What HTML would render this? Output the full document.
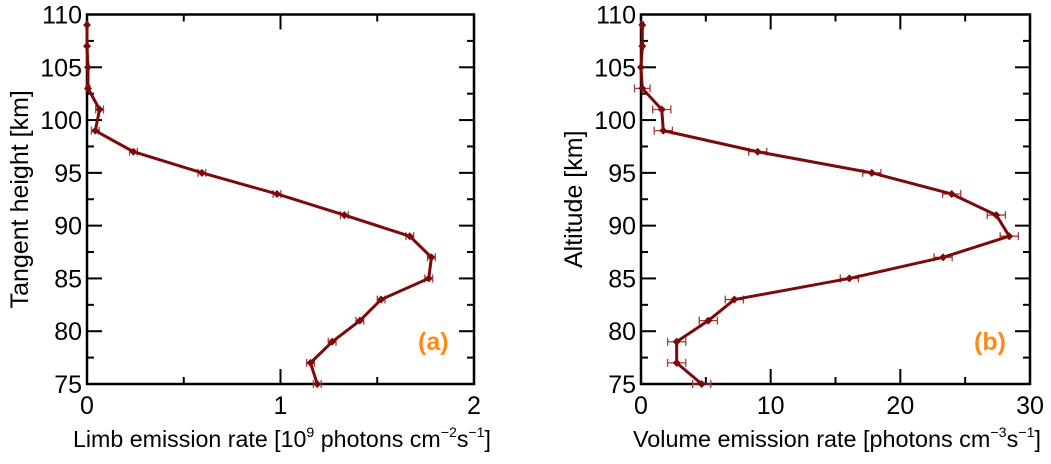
<!DOCTYPE html>
<html><head><meta charset="utf-8"><style>
body{margin:0;background:#fff;}
svg text{font-family:"Liberation Sans",sans-serif;fill:#000;}
</style></head><body>
<svg id="chart" width="1051" height="459" viewBox="0 0 1051 459" xmlns="http://www.w3.org/2000/svg"></svg>
<script>
const altitudes=[109,107,105,103,101,99,97,95,93,91,89,87,85,83,81,79,77,75];
const limbValues=[0.0,0.0,0.005,0.005,0.065,0.043,0.24,0.594,0.982,1.33,1.668,1.78,1.766,1.52,1.41,1.267,1.155,1.19];
const limbErrors=[0.005,0.005,0.005,0.01,0.02,0.02,0.02,0.02,0.02,0.02,0.02,0.02,0.02,0.02,0.02,0.02,0.02,0.02];
const verValues=[0.1,0.1,0.0,0.1,1.6,1.72,9.0,17.8,23.96,27.4,28.4,23.3,16.07,7.2,5.19,2.75,2.75,4.68];
const verErrors=[0.1,0.1,0.05,0.6,0.7,0.7,0.7,0.7,0.7,0.7,0.7,0.7,0.7,0.7,0.7,0.7,0.7,0.7];
const limbXTicks=[0,1,2];
const verXTicks=[0,10,20,30];
const yTicks=[75,80,85,90,95,100,105,110];

const NS="http://www.w3.org/2000/svg";
const svg=document.getElementById('chart');
function mk(tag,attrs,parent){const e=document.createElementNS(NS,tag);for(const k in attrs)e.setAttribute(k,attrs[k]);(parent||svg).appendChild(e);return e;}

function panel(cfg){
  const g=mk('g',{});
  
  
  const L=cfg.left,R=cfg.right,T=14.5,B=384;
  const sx=v=>L+(v-cfg.xmin)/(cfg.xmax-cfg.xmin)*(R-L);
  const sy=v=>B-(v-75)/(110-75)*(B-T);
  const tk=mk('g',{stroke:'#000','stroke-width':2},g);
  
  
  for(let v=75;v<=110;v+=2.5){const major=(v%5===0);const len=major?15:7;const y=sy(v);
    mk('line',{x1:L,y1:y,x2:L+len,y2:y},tk);mk('line',{x1:R,y1:y,x2:R-len,y2:y},tk);}
  const step=cfg.minorStep;
  for(let v=cfg.xmin;v<=cfg.xmax+1e-9;v+=step){const major=cfg.xticks.some(t=>Math.abs(t-v)<1e-9);const len=major?15:7;const x=sx(v);
    mk('line',{x1:x,y1:B,x2:x,y2:B-len},tk);mk('line',{x1:x,y1:T,x2:x,y2:T+len},tk);}
  const fr=mk('rect',{x:L,y:T,width:R-L,height:B-T,fill:'none',stroke:'#000','stroke-width':2.5},g);
  
  
  yTicks.forEach(v=>{const t=mk('text',{x:L-5,y:sy(v)+9,'text-anchor':'end','font-size':25},g);t.textContent=v;
    
    });
  cfg.xticks.forEach(v=>{const t=mk('text',{x:sx(v),y:414,'text-anchor':'middle','font-size':25},g);t.textContent=v;
    
    });
  const col='#7b0a0a';
  const eb=mk('g',{stroke:'#a83a3a','stroke-width':1.3},g);
  
  
  cfg.vals.forEach((v,i)=>{const y=sy(altitudes[i]);const x1=sx(v-cfg.errs[i]),x2=sx(v+cfg.errs[i]);
    mk('line',{x1:x1,y1:y,x2:x2,y2:y},eb);mk('line',{x1:x1,y1:y-4,x2:x1,y2:y+4},eb);mk('line',{x1:x2,y1:y-4,x2:x2,y2:y+4},eb);});
  const pts=cfg.vals.map((v,i)=>sx(v)+','+sy(altitudes[i])).join(' ');
  const pl=mk('polyline',{points:pts,fill:'none',stroke:col,'stroke-width':3,'stroke-linejoin':'round'},g);
  
  
  cfg.vals.forEach((v,i)=>{const x=sx(v),y=sy(altitudes[i]);
    const m=mk('polygon',{points:`${x-4},${y} ${x},${y-4} ${x+4},${y} ${x},${y+4}`,fill:col},g);
    
    });
  const lab=mk('text',{x:cfg.tagX,y:350,'font-size':25,'font-weight':'bold',fill:'#ff8a1a',style:'fill:#ff8a1a'},g);lab.textContent=cfg.tag;
  
  
  const yt=mk('text',{transform:`translate(${cfg.ytX},${(T+B)/2}) rotate(-90)`,'text-anchor':'middle','font-size':25},g);yt.textContent=cfg.ytitle;
  
  
  const xt=mk('text',{x:cfg.xtCenter,y:447,'text-anchor':'middle','font-size':23,textLength:cfg.xtLen,lengthAdjust:'spacingAndGlyphs'},g);xt.innerHTML=cfg.xtitle;
  
  
}
panel({name:'limb-emission-panel',left:87,right:474,xmin:0,xmax:2,minorStep:0.5,xticks:limbXTicks,vals:limbValues,errs:limbErrors,tag:'(a)',tagX:418,ytX:28,ytitle:'Tangent height [km]',xtCenter:282,xtLen:418,
  xtitle:'Limb emission rate [10<tspan dy="-10" font-size="14">9</tspan><tspan dy="10"> photons cm</tspan><tspan dy="-10" font-size="14">−2</tspan><tspan dy="10">s</tspan><tspan dy="-10" font-size="14">−1</tspan><tspan dy="10">]</tspan>'});
panel({name:'volume-emission-panel',left:641,right:1030,xmin:0,xmax:30,minorStep:5,xticks:verXTicks,vals:verValues,errs:verErrors,tag:'(b)',tagX:974,ytX:582,ytitle:'Altitude [km]',xtCenter:837,xtLen:408,
  xtitle:'Volume emission rate [photons cm<tspan dy="-10" font-size="14">−3</tspan><tspan dy="10">s</tspan><tspan dy="-10" font-size="14">−1</tspan><tspan dy="10">]</tspan>'});
</script>
</body></html>
